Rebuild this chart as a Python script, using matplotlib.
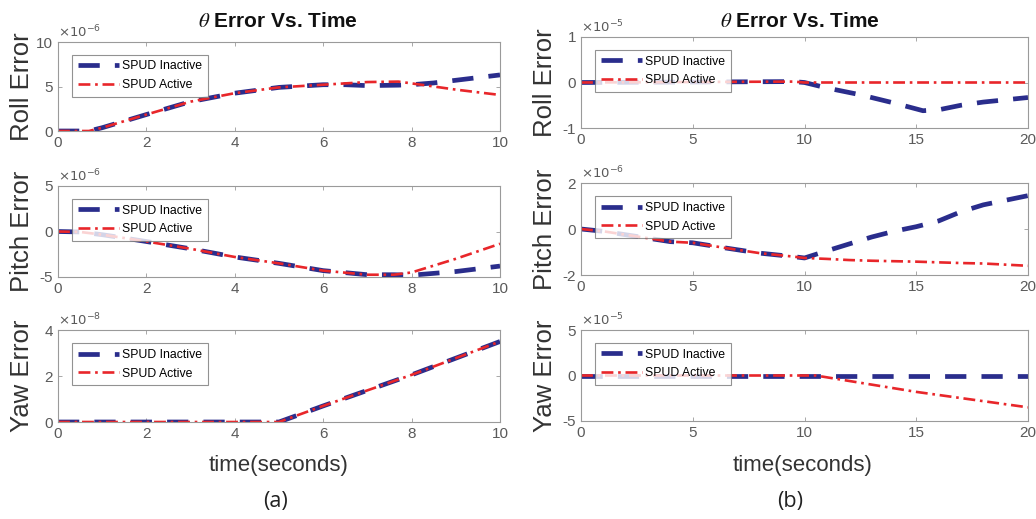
import matplotlib
matplotlib.use("Agg")
import matplotlib.pyplot as plt
import numpy as np

# ---------------- data ----------------
# (a) left column, 0..10 s
t_a_roll = [0, 0.7, 1, 2, 3, 4, 5, 6, 6.5, 7, 7.7, 8, 8.5, 9, 10]
roll_a_inactive = [0, 0, 0.37, 1.85, 3.3, 4.25, 4.9, 5.2, 5.2, 5.1, 5.15, 5.2, 5.4, 5.7, 6.3]
roll_a_active   = [0, 0, 0.37, 1.85, 3.3, 4.25, 4.9, 5.2, 5.35, 5.5, 5.55, 5.35, 5.0, 4.65, 4.05]

t_a_pitch = [0, 0.5, 1, 1.5, 2, 3, 4, 5, 6, 7, 7.6, 8, 9, 10]
pitch_a_inactive = [0, -0.05, -0.35, -0.72, -1.1, -1.9, -2.8, -3.5, -4.3, -4.75, -4.75, -4.8, -4.4, -3.8]
pitch_a_active   = [0, -0.05, -0.35, -0.72, -1.1, -1.9, -2.8, -3.5, -4.3, -4.75, -4.75, -4.5, -3.0, -1.35]

t_a_yaw = [0, 5, 6, 8, 10]
yaw_a_inactive = [0, 0, 0.7, 2.05, 3.5]
yaw_a_active   = [0, 0, 0.7, 2.05, 3.5]

# (b) right column, 0..20 s
t_b_roll = [0, 9.5, 10, 11, 12.5, 14, 15.3, 16, 17, 18, 20]
roll_b_inactive = [0, 0.02, 0, -0.12, -0.27, -0.45, -0.62, -0.6, -0.5, -0.43, -0.33]
roll_b_active   = [0, 0.02, 0, 0, 0, 0, 0, 0, 0, 0, 0]

t_b_pitch = [0, 1, 4, 5, 6.5, 8, 9.5, 10, 11, 12, 13, 14, 15, 16, 17, 18, 19, 20]
pitch_b_inactive = [0, -0.1, -0.55, -0.6, -0.83, -1.05, -1.2, -1.26, -0.95, -0.65, -0.35, -0.1, 0.1, 0.35, 0.75, 1.05, 1.25, 1.45]
pitch_b_active   = [0, -0.1, -0.55, -0.6, -0.83, -1.05, -1.2, -1.26, -1.3, -1.35, -1.38, -1.4, -1.42, -1.45, -1.48, -1.5, -1.55, -1.6]

t_b_yaw = [0, 10.5, 15, 20]
yaw_b_inactive = [0, 0, 0, 0]
yaw_b_active   = [0, 0, -1.8, -3.5]

labels = ["SPUD Inactive", "SPUD Active"]
ylabels = ["Roll Error", "Pitch Error", "Yaw Error"]
title = r"$\theta$ Error Vs. Time"
xlabel = "time(seconds)"

# ---------------- style ----------------
plt.rcParams['font.family'] = ['Liberation Sans', 'DejaVu Sans']
plt.rcParams['mathtext.fontset'] = 'stix'
plt.rcParams['axes.unicode_minus'] = False
BLUE = '#2a2d8c'
RED = '#e8262a'
GRAY = '#5a5a5a'
EDGE = '#9a9a9a'

fig = plt.figure(figsize=(10.36, 5.19), dpi=100)
W, H = 1036, 519

def px_axes(x0, x1, y0, y1):
    return fig.add_axes([x0 / W, 1 - y1 / H, (x1 - x0) / W, (y1 - y0) / H])

panels = [
    # left column
    dict(box=(58, 500, 42, 131), t=t_a_roll, a=roll_a_inactive, b=roll_a_active,
         ylim=(0, 10), yt=[0, 5, 10], xlim=(0, 10), xt=[0, 2, 4, 6, 8, 10], exp="-6", yl=ylabels[0], lx=22),
    dict(box=(58, 500, 186, 277), t=t_a_pitch, a=pitch_a_inactive, b=pitch_a_active,
         ylim=(-5, 5), yt=[-5, 0, 5], xlim=(0, 10), xt=[0, 2, 4, 6, 8, 10], exp="-6", yl=ylabels[1], lx=22),
    dict(box=(58, 500, 330, 422), t=t_a_yaw, a=yaw_a_inactive, b=yaw_a_active,
         ylim=(0, 4), yt=[0, 2, 4], xlim=(0, 10), xt=[0, 2, 4, 6, 8, 10], exp="-8", yl=ylabels[2], lx=22),
    # right column
    dict(box=(581, 1028, 37, 128), t=t_b_roll, a=roll_b_inactive, b=roll_b_active,
         ylim=(-1, 1), yt=[-1, 0, 1], xlim=(0, 20), xt=[0, 5, 10, 15, 20], exp="-5", yl=ylabels[0], lx=545),
    dict(box=(581, 1028, 183, 275), t=t_b_pitch, a=pitch_b_inactive, b=pitch_b_active,
         ylim=(-2, 2), yt=[-2, 0, 2], xlim=(0, 20), xt=[0, 5, 10, 15, 20], exp="-6", yl=ylabels[1], lx=545),
    dict(box=(581, 1028, 330, 421), t=t_b_yaw, a=yaw_b_inactive, b=yaw_b_active,
         ylim=(-5, 5), yt=[-5, 0, 5], xlim=(0, 20), xt=[0, 5, 10, 15, 20], exp="-5", yl=ylabels[2], lx=545),
]

for p in panels:
    ax = px_axes(*p['box'])
    ax.plot(p['t'], p['a'], color=BLUE, lw=3.4, linestyle=(0, (4.5, 3.2)),
            dash_capstyle='butt', label=labels[0])
    ax.plot(p['t'], p['b'], color=RED, lw=1.9, linestyle=(0, (4.5, 1.8, 1.0, 1.8)),
            label=labels[1])
    ax.set_xlim(*p['xlim'])
    ax.set_ylim(*p['ylim'])
    ax.set_xticks(p['xt'])
    ax.set_yticks(p['yt'])
    ax.tick_params(direction='in', top=True, right=True, length=3, width=0.6,
                   colors=EDGE, labelcolor=GRAY, labelsize=11, pad=3.6)
    for s in ax.spines.values():
        s.set_color(EDGE)
        s.set_linewidth(0.8)
    ax.text(0.0, 1.02, r"$\times10^{" + p['exp'] + "}$", transform=ax.transAxes,
            fontsize=9.5, color=GRAY, ha='left', va='bottom', math_fontfamily='dejavusans')
    x0 = p['box'][0]
    wpx = p['box'][1] - p['box'][0]
    ax.set_ylabel(p['yl'], fontsize=18.5, color='#333333', va='center')
    ax.yaxis.set_label_coords((p['lx'] - x0) / wpx, 0.5)
    leg = ax.legend(loc='upper left', bbox_to_anchor=(0.032, 0.855), fontsize=8.8,
                    handlelength=3.4, borderaxespad=0, frameon=True, fancybox=False,
                    borderpad=0.45, labelspacing=0.55, handletextpad=0.25)
    leg.get_frame().set_edgecolor('#777777')
    leg.get_frame().set_linewidth(0.8)

fig.text(278 / W, 1 - 22 / H, title, ha='center', va='center', fontsize=15,
         fontweight='bold', color='#111111')
fig.text(800 / W, 1 - 22 / H, title, ha='center', va='center', fontsize=15,
         fontweight='bold', color='#111111')
fig.text(279 / W, 1 - 465 / H, xlabel, ha='center', va='center', fontsize=16, color='#333333')
fig.text(803 / W, 1 - 465 / H, xlabel, ha='center', va='center', fontsize=16, color='#333333')
fig.text(276 / W, 1 - 502 / H, "(a)", ha='center', va='center', fontsize=15.5,
         color='#222222', family=['Open Sans', 'DejaVu Sans'])
fig.text(790 / W, 1 - 502 / H, "(b)", ha='center', va='center', fontsize=15.5,
         color='#222222', family=['Open Sans', 'DejaVu Sans'])

fig.savefig("out.png", dpi=100)
